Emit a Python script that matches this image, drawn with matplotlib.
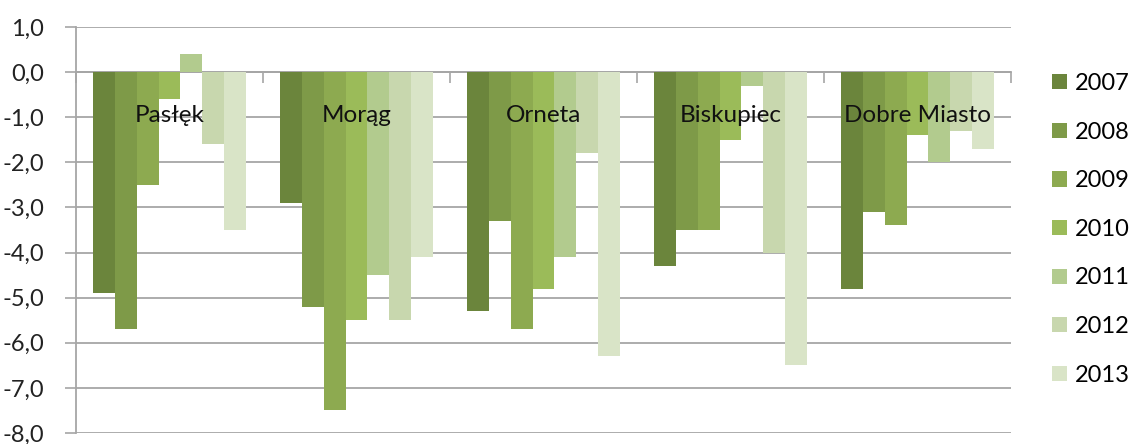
import matplotlib
matplotlib.use("Agg")
import matplotlib.pyplot as plt
import numpy as np
from matplotlib.patches import Patch

plt.rcParams['font.family'] = ['Lato', 'DejaVu Sans']

towns = ["Pasłęk", "Morąg", "Orneta", "Biskupiec", "Dobre Miasto"]
years = ["2007", "2008", "2009", "2010", "2011", "2012", "2013"]
v2007 = [-4.9, -2.9, -5.3, -4.3, -4.8]
v2008 = [-5.7, -5.2, -3.3, -3.5, -3.1]
v2009 = [-2.5, -7.5, -5.7, -3.5, -3.4]
v2010 = [-0.6, -5.5, -4.8, -1.5, -1.4]
v2011 = [0.4, -4.5, -4.1, -0.3, -2.0]
v2012 = [-1.6, -5.5, -1.8, -4.0, -1.3]
v2013 = [-3.5, -4.1, -6.3, -6.5, -1.7]
series = [v2007, v2008, v2009, v2010, v2011, v2012, v2013]
colors = ["#6B853C", "#7E9A48", "#8DAA50", "#9BBB59", "#B2CB8E", "#C8D7AE", "#D9E4C7"]
yticks = np.arange(-8, 1.01, 1.0)

fig = plt.figure(figsize=(11.33, 4.44), dpi=100)
ax = fig.add_axes([76/1133, 1-433/444, (1011-76)/1133, (433-27)/444])

x = np.arange(len(towns))
n = len(series)
group = 0.818
w = group / n
for i, (vals, c) in enumerate(zip(series, colors)):
    ax.bar(x - group/2 + w*(i+0.5), vals, width=w, color=c, linewidth=0, zorder=2)

ax.set_xlim(-0.5, len(towns)-0.5)
ax.set_ylim(-8, 1)
ax.set_yticks(yticks)
ax.set_yticklabels([f"{t:.1f}".replace('.', ',') for t in yticks], fontsize=17, color="#222222")
ax.yaxis.grid(True, color="#A6A6A6", linewidth=1.3, zorder=0)
ax.set_axisbelow(True)
ax.tick_params(axis='y', direction='out', length=8, width=1.2, color="#A6A6A6", pad=15)

for s in ['top', 'right']:
    ax.spines[s].set_visible(False)
ax.spines['left'].set_color("#A6A6A6")
ax.spines['left'].set_linewidth(1.3)
ax.spines['bottom'].set_position(('data', 0))
ax.spines['bottom'].set_color("#A6A6A6")
ax.spines['bottom'].set_linewidth(1.3)
ax.spines['bottom'].set_zorder(1)
ax.set_xticks([])
ax.set_xticks(np.arange(-0.5, len(towns), 1.0), minor=True)
ax.tick_params(axis='x', which='minor', direction='out', length=8, width=1.2, color="#A6A6A6", labelbottom=False)

for i, t in enumerate(towns):
    ax.text(i, -0.97, t, ha='center', va='center', fontsize=17.5, color="#111111", zorder=5)

handles = [Patch(facecolor=c, edgecolor='none') for c in colors]
fig.legend(handles, years, loc='upper left', bbox_to_anchor=(1052/1133, 1-73/444),
           frameon=False, fontsize=17, handlelength=0.62, handleheight=0.62,
           handletextpad=0.35, labelspacing=1.17, borderpad=0, borderaxespad=0)

fig.savefig("out.png", dpi=100)
